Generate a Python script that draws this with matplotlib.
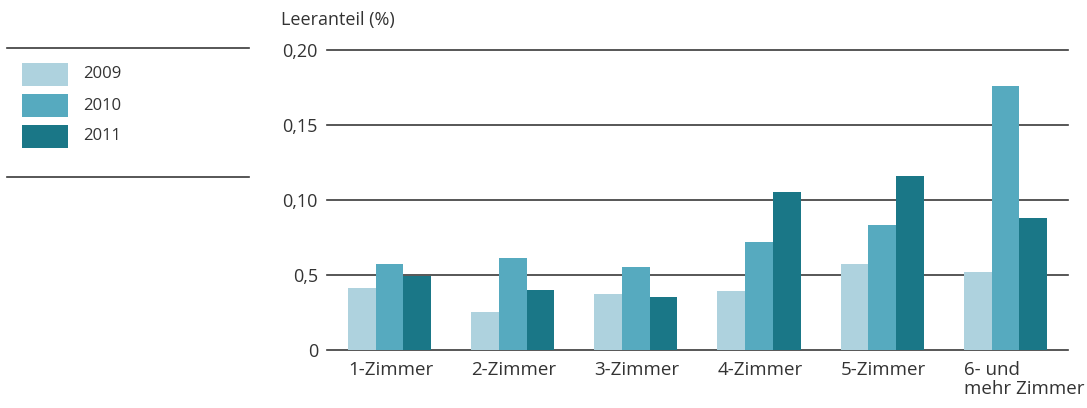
import matplotlib.pyplot as plt
import numpy as np
from matplotlib.patches import Rectangle
from matplotlib.lines import Line2D

plt.rcParams["font.family"] = ["Open Sans", "DejaVu Sans"]

categories = ["1-Zimmer", "2-Zimmer", "3-Zimmer", "4-Zimmer", "5-Zimmer",
              "6- und\nmehr Zimmer"]
years = ["2009", "2010", "2011"]
v2009 = [0.041, 0.025, 0.037, 0.039, 0.057, 0.052]
v2010 = [0.057, 0.061, 0.055, 0.072, 0.083, 0.176]
v2011 = [0.049, 0.040, 0.035, 0.105, 0.116, 0.088]
yticks = [0, 0.05, 0.10, 0.15, 0.20]
yticklabels = ["0", "0,5", "0,10", "0,15", "0,20"]

colors = ["#aed2de", "#56aabf", "#1a7787"]
text_c = "#333333"
line_c = "#3a3a3a"

fig = plt.figure(figsize=(10.87, 4.08), dpi=100)
ax = fig.add_axes([0.3008, 0.1422, 0.6817, 0.7353])

x = np.arange(len(categories))
w = 0.225
for k, vals in enumerate([v2009, v2010, v2011]):
    ax.bar(x + (k - 1) * w, vals, width=w, color=colors[k], zorder=3)

ax.set_xlim(-0.507, 5.507)
ax.set_ylim(0, 0.20)
ax.set_yticks(yticks)
ax.set_yticklabels(yticklabels)
ax.yaxis.grid(True, color=line_c, linewidth=1.2, zorder=1)
ax.set_axisbelow(True)
for gl in ax.get_ygridlines():
    gl.set_clip_on(False)
for s in ax.spines.values():
    s.set_visible(False)
ax.tick_params(axis="y", length=0, pad=6.5, labelsize=13, labelcolor=text_c)

# category labels start at the left edge of each bar group
ax.set_xticks(x - 1.5 * w)
ax.set_xticklabels(categories, ha="left", linespacing=1.1)
ax.tick_params(axis="x", length=0, pad=8, labelsize=13.5, labelcolor=text_c)

fig.text(281 / 1087, 1 - 20 / 408, "Leeranteil (%)", fontsize=13,
         color=text_c, ha="left", va="center")

# legend block on the left, laid out in pixel coordinates
lax = fig.add_axes([0, 0, 1, 1])
lax.set_xlim(0, 1087)
lax.set_ylim(408, 0)
lax.axis("off")
lax.add_line(Line2D([7, 249], [48, 48], color=line_c, linewidth=1.2))
lax.add_line(Line2D([7, 249], [177, 177], color=line_c, linewidth=1.2))
for k, yr in enumerate(years):
    top = 63 + k * 31
    lax.add_patch(Rectangle((22, top), 46, 23, color=colors[k], linewidth=0))
    lax.text(83, top + 11.5, yr, fontsize=12, color=text_c, va="center")

fig.savefig("out.png", dpi=100)
